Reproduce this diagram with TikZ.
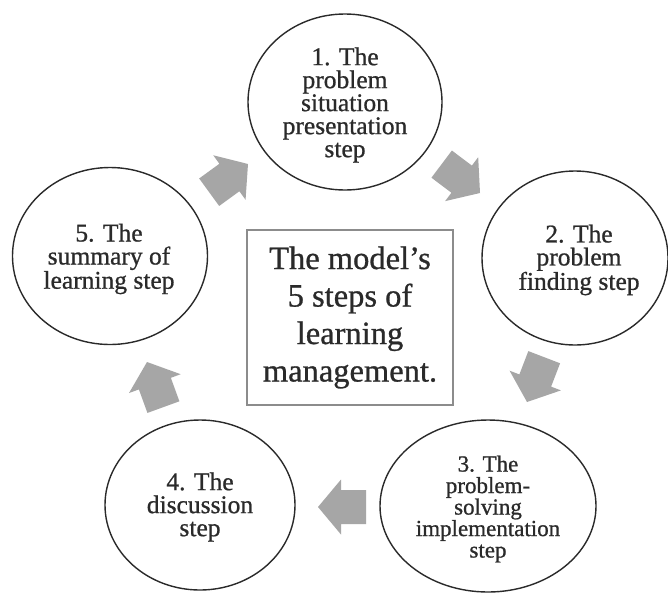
\documentclass[tikz,border=0pt]{standalone}
\usepackage{fontspec}
\setmainfont{Liberation Serif}[FakeBold=0.8]
\usetikzlibrary{shapes.geometric}
\definecolor{arrowgray}{HTML}{A6A6A6}
\definecolor{linedark}{HTML}{2A2A2A}
\definecolor{boxgray}{HTML}{8C8C8C}
\definecolor{textdark}{HTML}{2A2A2A}
\tikzset{
  stepcircle/.style={ellipse, draw=linedark, line width=1.4pt, inner sep=0pt},
  steptext/.style={inner sep=0pt, align=center, text=textdark,
    font=\fontsize{25.5pt}{23pt}\selectfont},
  centerbox/.style={rectangle, draw=boxgray, line width=1.2pt, minimum width=206pt,
    minimum height=175pt, align=center, text=textdark, font=\fontsize{32.5pt}{37.5pt}\selectfont},
  blockarrow/.pic={
    \fill[arrowgray] (0,0) -- (-23,27.5) -- (-23,17) -- (-48,17) -- (-48,-17)
      -- (-23,-17) -- (-23,-27.5) -- cycle;
    \coordinate (-tip) at (0,0);
  }
}
\begin{document}
\begin{tikzpicture}[x=1pt,y=-1pt]
\useasboundingbox (0,0) rectangle (668,592);
\fill[white] (0,0) rectangle (668,592);

\node[centerbox] (center) at (350,317.5) {The model’s\\5 steps of\\learning\\management.};

\node[stepcircle, minimum width=194pt, minimum height=176pt] (s1) at (345,102) {};
\node[stepcircle, minimum width=186pt, minimum height=174pt] (s2) at (575,258) {};
\node[stepcircle, minimum width=216pt, minimum height=172pt] (s3) at (488,506) {};
\node[stepcircle, minimum width=190pt, minimum height=170pt] (s4) at (200,505) {};
\node[stepcircle, minimum width=195pt, minimum height=177pt] (s5) at (110,256) {};

\node[steptext] (t1) at (345,105) {1. The\\problem\\situation\\presentation\\step};
\node[steptext] (t2) at (579,260) {2. The\\problem\\finding step};
\node[steptext, font=\fontsize{23pt}{21.5pt}\selectfont] (t3) at (488,509)
  {3. The\\problem-\\solving\\implementation\\step};
\node[steptext] (t4) at (200,507) {4. The\\discussion\\step};
\node[steptext] (t5) at (109,259) {5. The\\summary of\\learning step};

\pic[rotate=36] (a51) at (248,164) {blockarrow};
\pic[rotate=-37] (a12) at (480,193) {blockarrow};
\pic[rotate=-111] (a23) at (527,402) {blockarrow};
\pic[rotate=180] (a34) at (318,507) {blockarrow};
\pic[rotate=110] (a45) at (147,362) {blockarrow};
\end{tikzpicture}
\end{document}
